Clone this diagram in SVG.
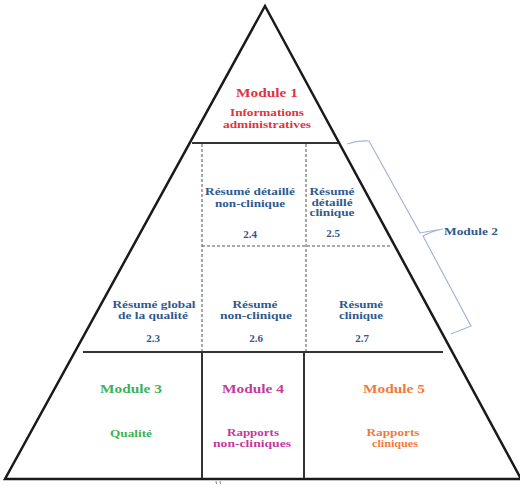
<svg xmlns="http://www.w3.org/2000/svg" width="520" height="494" viewBox="0 0 520 494">
<style>
.t{font-family:"Liberation Serif","Times New Roman",serif;font-weight:bold;text-anchor:middle}
.h{font-size:13px}
.s{font-size:11px}
.xs{font-size:10px}
.red{fill:#e2323f}
.blue{fill:#2e5a8e}
.green{fill:#3db25a}
.mag{fill:#c23b9c}
.org{fill:#f07a3e}
.solid{stroke:#333;stroke-width:2;fill:none}
.dash{stroke:#555;stroke-width:1;stroke-dasharray:3,2;fill:none}
</style>
<rect width="520" height="494" fill="#fff"/>
<g id="pyramid">
<polygon points="265,6 5,479 521,479" fill="#fff" stroke="#1a1a1a" stroke-width="2.5" stroke-linejoin="miter"/>
</g>
<g id="connectors">
<line class="solid" x1="192" y1="143" x2="338" y2="143"/>
<line class="dash" x1="202" y1="144" x2="202" y2="351"/>
<line class="dash" x1="306" y1="144" x2="306" y2="351"/>
<line class="dash" x1="202" y1="246" x2="391" y2="246"/>
<line class="solid" x1="83" y1="352" x2="443" y2="352"/>
<line class="solid" x1="202" y1="352" x2="202" y2="478"/>
<line class="solid" x1="304" y1="352" x2="304" y2="478"/>
<path d="M347,144 Q358,140 369,141 L420,233 Q430,231 443,229 M443,229 Q432,231 423,236 L471,326 Q461,330 451,334" fill="none" stroke="#a8b4d8" stroke-width="1.2"/>
<path d="M216,481 l0.5,3 M220,481 l0.5,3" stroke="#888" stroke-width="1"/>
</g>
<g id="module1">
<text class="t h red" x="267" y="97" textLength="62" lengthAdjust="spacingAndGlyphs">Module 1</text>
<text class="t s red" x="267" y="116" textLength="74" lengthAdjust="spacingAndGlyphs">Informations</text>
<text class="t s red" x="267" y="128" textLength="88" lengthAdjust="spacingAndGlyphs">administratives</text>
</g>
<g id="n24">
<text class="t s blue" x="250" y="195" textLength="90" lengthAdjust="spacingAndGlyphs">Résumé détaillé</text>
<text class="t s blue" x="250" y="207" textLength="70" lengthAdjust="spacingAndGlyphs">non-clinique</text>
<text class="t s blue" x="250" y="238">2.4</text>
</g>
<g id="n25">
<text class="t xs blue" x="332" y="195" textLength="45" lengthAdjust="spacingAndGlyphs">Résumé</text>
<text class="t xs blue" x="332" y="205.5" textLength="41" lengthAdjust="spacingAndGlyphs">détaillé</text>
<text class="t xs blue" x="332" y="216" textLength="45" lengthAdjust="spacingAndGlyphs">clinique</text>
<text class="t s blue" x="333" y="237">2.5</text>
</g>
<g id="n23">
<text class="t s blue" x="154" y="308" textLength="83" lengthAdjust="spacingAndGlyphs">Résumé global</text>
<text class="t s blue" x="153" y="319" textLength="70" lengthAdjust="spacingAndGlyphs">de la qualité</text>
<text class="t s blue" x="153" y="342">2.3</text>
</g>
<g id="n26">
<text class="t s blue" x="255" y="308" textLength="45" lengthAdjust="spacingAndGlyphs">Résumé</text>
<text class="t s blue" x="256" y="319" textLength="72" lengthAdjust="spacingAndGlyphs">non-clinique</text>
<text class="t s blue" x="256" y="342">2.6</text>
</g>
<g id="n27">
<text class="t s blue" x="361" y="308" textLength="44" lengthAdjust="spacingAndGlyphs">Résumé</text>
<text class="t s blue" x="361" y="319" textLength="44" lengthAdjust="spacingAndGlyphs">clinique</text>
<text class="t s blue" x="362" y="342">2.7</text>
</g>
<g id="module2">
<text class="t s blue" x="471" y="235" textLength="54" lengthAdjust="spacingAndGlyphs">Module 2</text>
</g>
<g id="module3">
<text class="t h green" x="131" y="393" textLength="62" lengthAdjust="spacingAndGlyphs">Module 3</text>
<text class="t s green" x="131" y="437" textLength="42" lengthAdjust="spacingAndGlyphs">Qualité</text>
</g>
<g id="module4">
<text class="t h mag" x="253" y="393" textLength="62" lengthAdjust="spacingAndGlyphs">Module 4</text>
<text class="t s mag" x="253" y="436" textLength="52" lengthAdjust="spacingAndGlyphs">Rapports</text>
<text class="t s mag" x="252" y="447" textLength="78" lengthAdjust="spacingAndGlyphs">non-cliniques</text>
</g>
<g id="module5">
<text class="t h org" x="394" y="393" textLength="62" lengthAdjust="spacingAndGlyphs">Module 5</text>
<text class="t s org" x="393" y="436" textLength="53" lengthAdjust="spacingAndGlyphs">Rapports</text>
<text class="t s org" x="395" y="447" textLength="46" lengthAdjust="spacingAndGlyphs">cliniques</text>
</g>
</svg>
